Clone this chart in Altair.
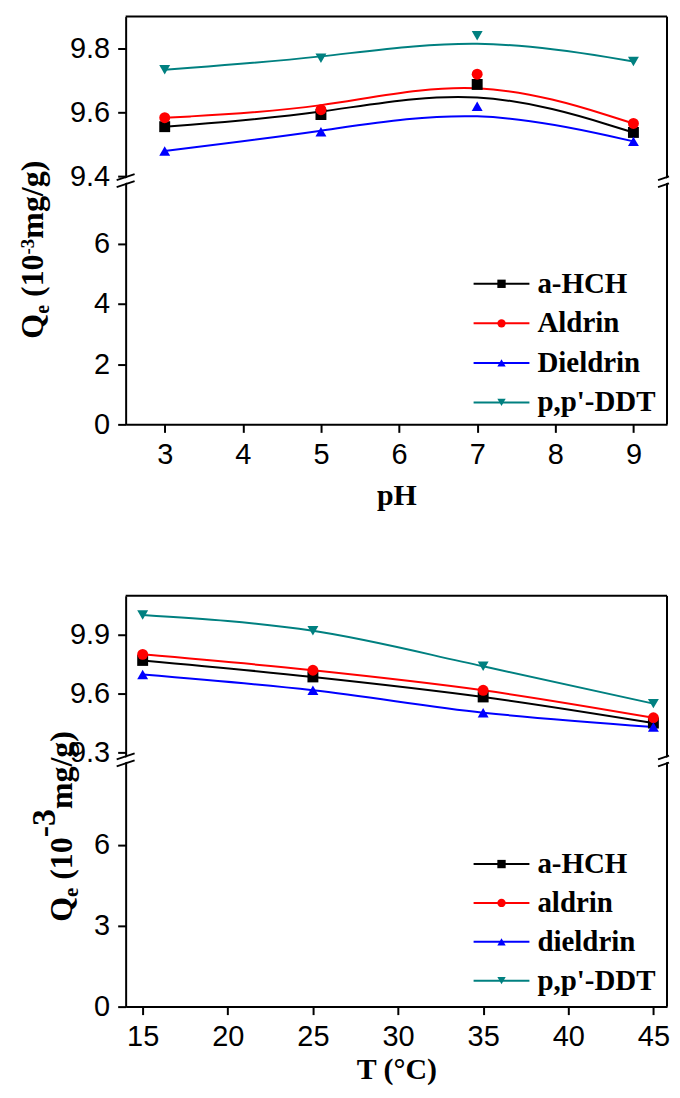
import altair as alt
import pandas as pd

# ---------------- data ----------------
series = ["a-HCH", "Aldrin", "Dieldrin", "p,p'-DDT"]
labels_ph = ["a-HCH", "Aldrin", "Dieldrin", "p,p'-DDT"]
labels_t = ["a-HCH", "aldrin", "dieldrin", "p,p'-DDT"]
colors = ["#000000", "#FF0000", "#0000FF", "#008080"]
shapes = ["square", "circle", "triangle-up", "triangle-down"]

ph = [3, 5, 7, 9]
qe_ph_hch = [9.556, 9.594, 9.688, 9.538]
qe_ph_aldrin = [9.584, 9.609, 9.720, 9.566]
qe_ph_dieldrin = [9.480, 9.540, 9.620, 9.510]
qe_ph_ddt = [9.734, 9.770, 9.840, 9.760]

temp = [15, 25, 35, 45]
qe_t_hch = [9.769, 9.685, 9.583, 9.450]
qe_t_aldrin = [9.800, 9.719, 9.617, 9.477]
qe_t_dieldrin = [9.697, 9.617, 9.503, 9.430]
qe_t_ddt = [10.000, 9.920, 9.739, 9.549]

ph_ticks = [3, 4, 5, 6, 7, 8, 9]
t_ticks = [15, 20, 25, 30, 35, 40, 45]

# ---------------- styling ----------------
W = 543
SERIF = "Liberation Serif"
SANS = "Liberation Sans"
CHAR_W = {"Q": 0.778, "e": 0.444, " ": 0.25, "(": 0.333, "1": 0.5, "0": 0.5,
          "-": 0.333, "3": 0.5, "m": 0.833, "g": 0.5, "/": 0.278, ")": 0.333}

color_enc = alt.Color("series:N", scale=alt.Scale(domain=series, range=colors), legend=None)
shape_enc = alt.Shape("series:N", scale=alt.Scale(domain=series, range=shapes), legend=None)
one = pd.DataFrame({"k": [1]})


def long_df(xs, cols):
    rows = []
    for s, ys in zip(series, cols):
        for xv, yv in zip(xs, ys):
            rows.append({"x": xv, "qe": yv, "series": s})
    return pd.DataFrame(rows)


def seg(x1, y1, x2, y2, color="black", width=1.8):
    return alt.Chart(one).mark_rule(color=color, strokeWidth=width).encode(
        x=alt.value(x1), x2=alt.value(x2), y=alt.value(y1), y2=alt.value(y2))


def break_marks(x0, left_ext, right_ext):
    s = -1.0 / 3.0
    out = []
    for off, col, wd in [(3.5, "white", 4.5), (0.0, "black", 1.8), (7.0, "black", 1.8)]:
        xa, xb = x0 - left_ext, x0 + right_ext
        ya = off + s * (xa - x0) - 3.0
        yb = off + s * (xb - x0) - 3.0
        out.append(seg(xa, ya, xb, yb, col, wd))
    return out


def title_pieces(bx, start_y, pieces):
    out = []
    y = start_y
    for txt, fs, dx in pieces:
        lead = 0.0
        while txt.startswith(" "):
            lead += CHAR_W[" "] * fs
            txt = txt[1:]
        y -= lead
        out.append(alt.Chart(one).mark_text(
            text=txt, angle=270, align="left", baseline="alphabetic",
            font=SERIF, fontWeight="bold", fontSize=fs, color="black"
        ).encode(x=alt.value(bx + dx), y=alt.value(y)))
        y -= sum(CHAR_W.get(c, 0.5) for c in txt) * fs
    return out


def panel(df, xdom, xticks, xtitle, title_pad, up_dom, up_h, up_ticks, lo_dom, lo_h, lo_ticks,
          labels, leg_range, interp, tb_x, tb_y, tpieces):
    xs = alt.Scale(domain=xdom, nice=False, zero=False)
    base = alt.Chart(df).encode(
        x=alt.X("x:Q", scale=xs, axis=None),
        y=alt.Y("qe:Q", scale=alt.Scale(domain=up_dom, nice=False, zero=False),
                axis=alt.Axis(values=up_ticks, format=".1f", title=None)),
        color=color_enc,
    )
    lines = base.mark_line(interpolate=interp, strokeWidth=2)
    pts = base.mark_point(filled=True, size=120, opacity=1).encode(shape=shape_enc)
    upper = alt.layer(
        lines, pts,
        seg(0, 0, W, 0, width=2),
        alt.Chart(one).mark_rule(color="black", strokeWidth=2).encode(
            x=alt.value(W), y=alt.value(0), y2=alt.value(up_h)),
    ).properties(width=W, height=up_h)

    axis_layer = alt.Chart(df).mark_point(opacity=0, clip=True).encode(
        x=alt.X("x:Q", scale=xs,
                axis=alt.Axis(values=xticks, title=xtitle, titleFont=SERIF,
                              titleFontWeight="bold", titleFontSize=30, titlePadding=title_pad)),
        y=alt.Y("qe:Q", scale=alt.Scale(domain=lo_dom, nice=False, zero=False),
                axis=alt.Axis(values=lo_ticks, format="d", title=None)),
    )
    leg_df = pd.DataFrame({"series": series, "label": labels, "idx": list(range(4))})
    leg_y = alt.Y("idx:Q", scale=alt.Scale(domain=[0, 3], range=leg_range), axis=None)
    leg = alt.layer(
        alt.Chart(leg_df).mark_rule(strokeWidth=2).encode(
            x=alt.value(349), x2=alt.value(405), y=leg_y, color=color_enc),
        alt.Chart(leg_df).mark_point(filled=True, size=70, opacity=1).encode(
            x=alt.value(377), y=leg_y, color=color_enc, shape=shape_enc),
        alt.Chart(leg_df).mark_text(align="left", baseline="middle", font=SERIF,
                                    fontWeight="bold", fontSize=29, color="black").encode(
            x=alt.value(413), y=leg_y, text="label:N"),
    )
    lower = alt.layer(
        axis_layer,
        alt.Chart(one).mark_rule(color="black", strokeWidth=2).encode(
            x=alt.value(W), y=alt.value(0), y2=alt.value(lo_h)),
        leg,
        *title_pieces(tb_x, tb_y, tpieces),
        *break_marks(0, 9, 9),
        *break_marks(W, 9, 2),
    ).resolve_scale(y="independent").properties(width=W, height=lo_h)
    return upper, lower


df_ph = long_df(ph, [qe_ph_hch, qe_ph_aldrin, qe_ph_dieldrin, qe_ph_ddt])
df_t = long_df(temp, [qe_t_hch, qe_t_aldrin, qe_t_dieldrin, qe_t_ddt])

up1, lo1 = panel(df_ph, [2.5, 9.43], ph_ticks, "pH", 11,
                 [9.389, 9.9], 164, [9.4, 9.6, 9.8],
                 [0, 8.1], 245, [0, 2, 4, 6],
                 labels_ph, [104, 223], "basis",
                 -83, 159,
                 [("Q", 32, 0), ("e", 20, 6), (" (10", 32, 0), ("-3", 19, -9), ("mg/g)", 32, 0)])

up2, lo2 = panel(df_t, [14, 45.8], t_ticks, "T (°C)", 3,
                 [9.265, 10.098], 164, [9.3, 9.6, 9.9],
                 [0, 9.16], 248, [0, 3, 6],
                 labels_t, [105, 222], "monotone",
                 -54, 163,
                 [("Q", 32, 0), ("e", 21, 6), (" (10", 32, 0), ("-3", 34, -17), ("mg/g)", 32, 0)])

spacer = alt.Chart(one).mark_point(opacity=0).encode(
    x=alt.value(0), y=alt.value(0)).properties(width=W, height=172)

chart = alt.vconcat(up1, lo1, spacer, up2, lo2, spacing=0, bounds="flush").resolve_scale(
    x="independent", y="independent"
).properties(
    padding={"left": 9, "top": 6, "right": 0, "bottom": 2},
    background="white",
).configure_view(strokeWidth=0).configure_axis(
    labelFont=SANS, labelFontSize=29, labelColor="black",
    tickColor="black", tickWidth=2, tickSize=8, labelPadding=8,
    domainColor="black", domainWidth=2, grid=False,
    labelFlush=False, labelOverlap=False,
    titleColor="black",
)

chart.save("out.html", embed_options={"renderer": "svg", "actions": False})
